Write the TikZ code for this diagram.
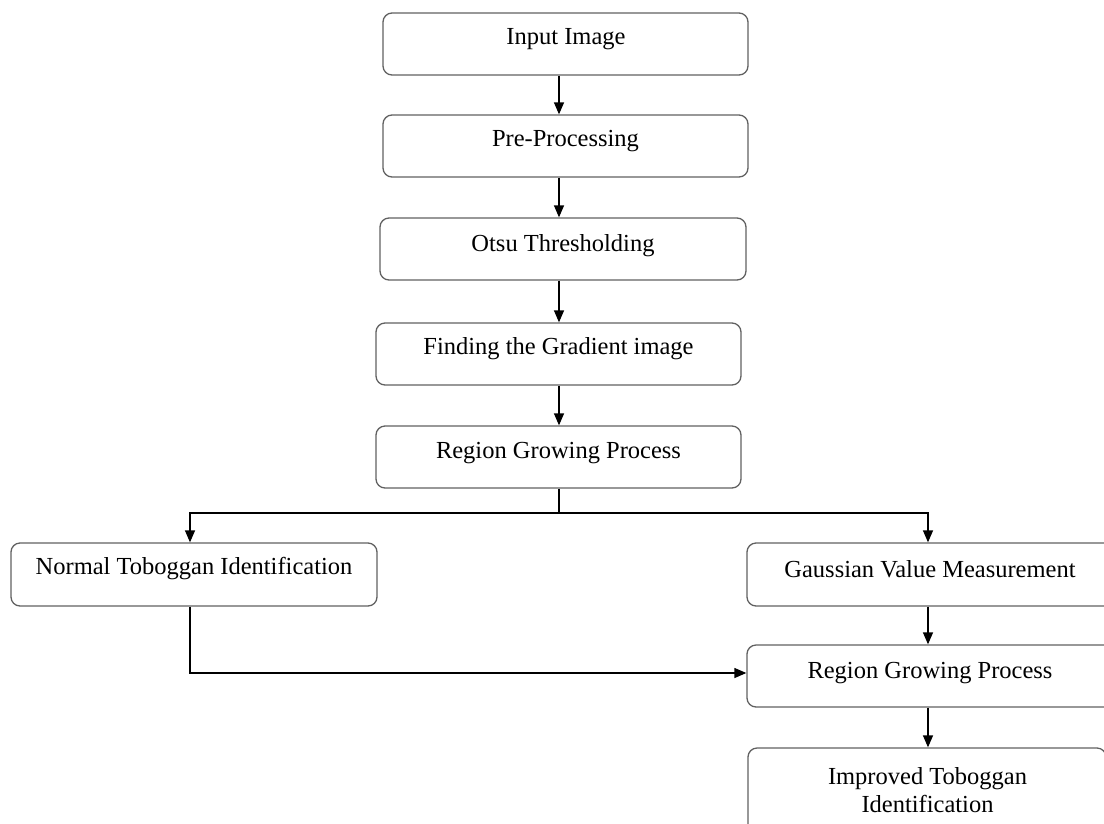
\documentclass[tikz,border=0pt]{standalone}
\usepackage{fontspec}
\setmainfont{Liberation Serif}
\usetikzlibrary{arrows.meta}
\begin{document}
\begin{tikzpicture}[x=1pt,y=-1pt,
  box/.style={draw=black!62, line width=1.3pt, rounded corners=9pt, inner sep=0pt, minimum width=365pt, minimum height=62pt},
  lab/.style={font=\fontsize{24.5}{28}\selectfont, inner sep=0pt, align=center},
  arr/.style={draw=black, line width=1.3pt, -{Triangle[length=12pt,width=10pt]}},
  ln/.style={draw=black, line width=1.3pt}]
\useasboundingbox (0,0) rectangle (1104,823);
\fill[white] (0,0) rectangle (1104,823);

% boxes
\node[box] (b1) at (565.5,44) {};
\node[box] (b2) at (565.5,146) {};
\node[box, minimum width=366pt] (b3) at (563,249) {};
\node[box] (b4) at (558.5,354) {};
\node[box] (b5) at (558.5,457) {};
\node[box, minimum width=366pt, minimum height=63pt] (b6) at (194,574.5) {};
\node[box, minimum width=373pt, minimum height=63pt] (b7) at (933.5,574.5) {};
\node[box, minimum width=373pt] (b8) at (933.5,676) {};
\node[box, minimum width=358pt, minimum height=92pt] (b9) at (927,794) {};

% texts
\node[lab] (t1) at (566,39) {Input Image};
\node[lab] (t2) at (565.5,141) {Pre-Processing};
\node[lab] (t3) at (563,246) {Otsu Thresholding};
\node[lab] (t4) at (558.5,349) {Finding the Gradient image};
\node[lab] (t5) at (558.5,453) {Region Growing Process};
\node[lab] (t6) at (194,569) {Normal Toboggan Identification};
\node[lab] (t7) at (930,569) {Gaussian Value Measurement};
\node[lab] (t8) at (930,673) {Region Growing Process};
\node[lab] (t9) at (927.5,790) {Improved Toboggan\\Identification};

% connectors
\coordinate (cm) at (559,0);
\coordinate (j) at (559,513);
\coordinate (jl) at (190,513);
\coordinate (jr) at (928,513);
\draw[arr] (b1.south -| cm) -- (b2.north -| cm);
\draw[arr] (b2.south -| cm) -- (b3.north -| cm);
\draw[arr] (b3.south -| cm) -- (b4.north -| cm);
\draw[arr] (b4.south -| cm) -- (b5.north -| cm);
\draw[ln] (b5.south -| cm) -- (j);
\draw[arr] (j) -| (b6.north -| jl);
\draw[arr] (j) -| (b7.north -| jr);
\draw[arr] (b7.south -| jr) -- (b8.north -| jr);
\draw[arr] (b8.south -| jr) -- (b9.north -| jr);
\draw[arr] (b6.south -| jl) |- ([yshift=3pt]b8.west);
\end{tikzpicture}
\end{document}
